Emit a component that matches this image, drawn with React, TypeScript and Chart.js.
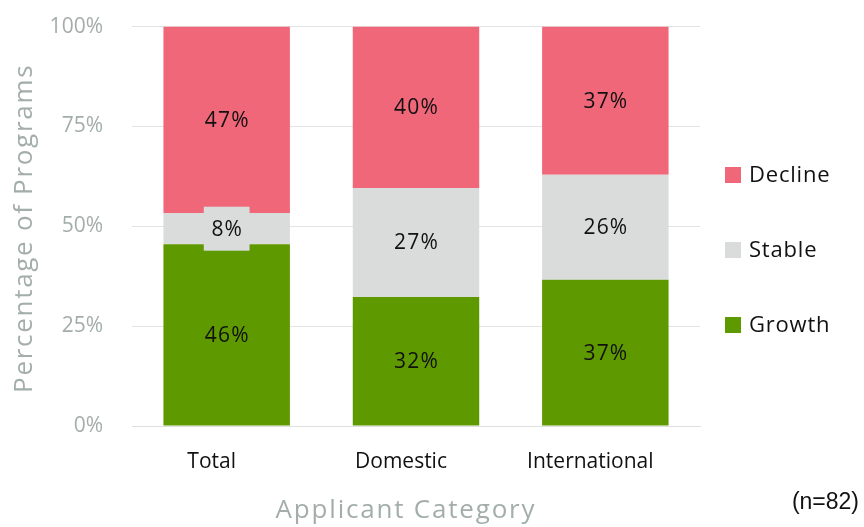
import React, { useEffect, useRef } from 'react';
import { Chart, registerables } from 'chart.js';

Chart.register(...registerables);

const categories = ['Total', 'Domestic', 'International'];
const seriesNames = ['Growth', 'Stable', 'Decline'];
const growth = [45.5, 32.3, 36.6];
const stable = [7.8, 27.3, 26.3];
const decline = [46.7, 40.4, 37.1];
const yTicks = [0, 25, 50, 75, 100];
const xTitle = 'Applicant Category';
const yTitle = 'Percentage of Programs';
const sampleNote = '(n=82)';

const COLORS = ['#5f9900', '#d9dcdb', '#f0677a'];
const GRAY = '#a3aeab';
const FONT = "'Open Sans', 'Noto Sans', sans-serif";

function setSpacing(ctx: any, px: number) {
  if ('letterSpacing' in ctx) ctx.letterSpacing = px + 'px';
}

const labelPlugin = {
  id: 'segLabels',
  afterDatasetsDraw(chart: any) {
    const ctx = chart.ctx;
    ctx.save();
    ctx.font = `21px ${FONT}`;
    setSpacing(ctx, 1.2);
    ctx.textAlign = 'center';
    ctx.textBaseline = 'middle';
    chart.data.datasets.forEach((ds: any, i: number) => {
      const meta = chart.getDatasetMeta(i);
      meta.data.forEach((bar: any, j: number) => {
        const { x, y, base } = bar.getProps(['x', 'y', 'base'], true);
        const cy = (y + base) / 2;
        const text = Math.round(ds.data[j]) + '%';
        const w = ctx.measureText(text).width;
        ctx.fillStyle = ds.backgroundColor;
        ctx.fillRect(x - w / 2 - 7, cy - 22, w + 14, 44);
        ctx.fillStyle = '#111';
        ctx.fillText(text, x + 0.6, cy + 1);
      });
    });
    ctx.restore();
  },
};

const extrasPlugin = {
  id: 'extras',
  afterDraw(chart: any) {
    const ctx = chart.ctx;
    const area = chart.chartArea;
    ctx.save();
    // legend
    ctx.font = `22px ${FONT}`;
    setSpacing(ctx, 0.8);
    ctx.textAlign = 'left';
    ctx.textBaseline = 'middle';
    const order = [2, 1, 0];
    order.forEach((di, k) => {
      const cy = 175 + k * 75;
      ctx.fillStyle = COLORS[di];
      ctx.fillRect(725, cy - 8, 16, 16);
      ctx.fillStyle = '#111';
      ctx.fillText(seriesNames[di], 749, cy + 1);
    });
    // x title
    ctx.font = `26px ${FONT}`;
    setSpacing(ctx, 1.8);
    ctx.fillStyle = GRAY;
    ctx.textAlign = 'center';
    ctx.fillText(xTitle, 406, 511);
    // y title
    ctx.save();
    ctx.translate(25, (area.top + area.bottom) / 2 + 2);
    ctx.rotate(-Math.PI / 2);
    setSpacing(ctx, 1.7);
    ctx.fillText(yTitle, 0, 0);
    ctx.restore();
    // note
    ctx.font = `23px 'Liberation Sans', sans-serif`;
    setSpacing(ctx, 0);
    ctx.fillStyle = '#111';
    ctx.textAlign = 'right';
    ctx.fillText(sampleNote, 859, 503);
    ctx.restore();
  },
};

export default function App() {
  const ref = useRef<HTMLCanvasElement | null>(null);
  useEffect(() => {
    document.body.style.margin = '0';
    const canvas = ref.current!;
    const chart = new Chart(canvas, {
      type: 'bar',
      data: {
        labels: categories,
        datasets: [growth, stable, decline].map((d, i) => ({
          label: seriesNames[i],
          data: d,
          backgroundColor: COLORS[i],
          borderWidth: 0,
          barPercentage: 0.668,
          categoryPercentage: 1,
        })),
      },
      options: {
        animation: false,
        responsive: false,
        devicePixelRatio: 1,
        layout: { padding: { top: 0, right: 164, bottom: 0, left: 0 } },
        plugins: { legend: { display: false }, tooltip: { enabled: false } },
        scales: {
          x: {
            stacked: true,
            grid: { display: false, drawTicks: false },
            border: { display: true, color: '#dedede', width: 1 },
            ticks: { color: '#111', font: { family: FONT, size: 21 }, padding: 23, labelOffset: -15 },
            afterFit: (s: any) => { s.height = 101; },
          },
          y: {
            stacked: true,
            min: 0,
            max: 100,
            afterBuildTicks: (s: any) => { s.ticks = yTicks.map((v) => ({ value: v })); },
            ticks: {
              color: GRAY,
              font: { family: FONT, size: 21 },
              padding: 14,
              callback: (v: any) => v + '%',
            },
            grid: { color: '#e3e3e3', drawTicks: true, tickLength: 15, tickColor: 'rgba(0,0,0,0)' },
            border: { display: false },
            afterFit: (s: any) => { s.width = 132; },
          },
        },
      },
      plugins: [labelPlugin, extrasPlugin],
    });
    return () => chart.destroy();
  }, []);
  return (
    <div style={{ width: 864, height: 527 }}>
      <canvas ref={ref} width={864} height={527} />
    </div>
  );
}
